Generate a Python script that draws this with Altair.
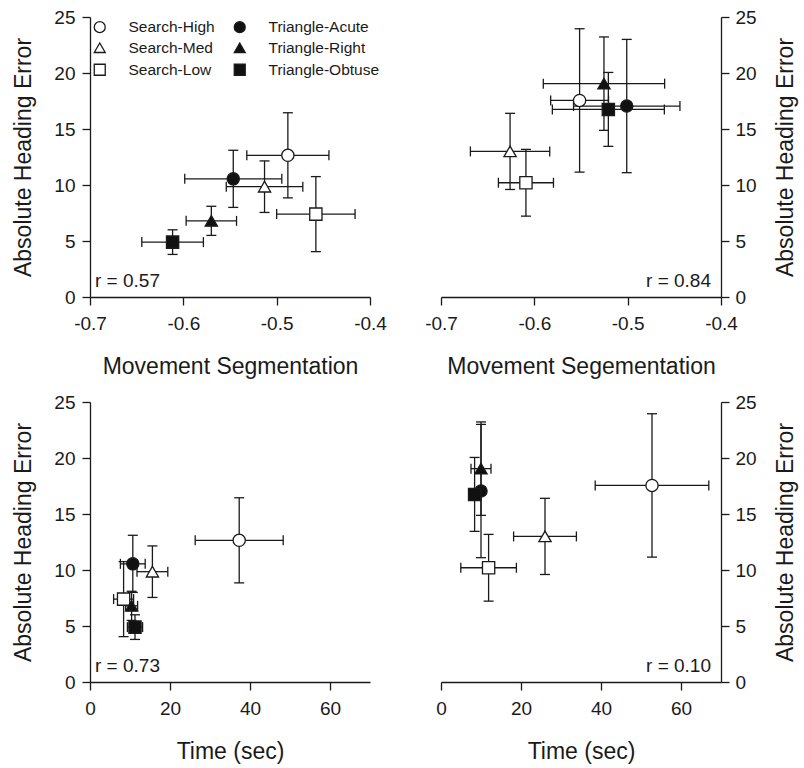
import altair as alt
import pandas as pd

# ---------------- data ----------------
conditions = ["Search-High", "Search-Med", "Search-Low", "Triangle-Acute", "Triangle-Right", "Triangle-Obtuse"]
shapes = ["circle", "triangle-up", "square", "circle", "triangle-up", "square"]
fills = ["white", "white", "white", "#111111", "#111111", "#111111"]
strokes = ["#1a1a1a"] * 6

# Absolute heading error (left column panels)
heading_a = [12.65, 9.85, 7.4, 10.55, 6.8, 4.9]
heading_a_err = [3.8, 2.3, 3.35, 2.55, 1.3, 1.1]
# Absolute heading error (right column panels)
heading_b = [17.55, 13.0, 10.2, 17.05, 19.05, 16.75]
heading_b_err = [6.4, 3.4, 2.98, 5.95, 4.17, 3.3]

# Movement segmentation
seg_a = [-0.488, -0.513, -0.458, -0.5465, -0.570, -0.6115]
seg_a_err = [0.044, 0.041, 0.042, 0.052, 0.027, 0.033]
seg_b = [-0.5515, -0.626, -0.609, -0.501, -0.5254, -0.5207]
seg_b_err = [0.031, 0.0425, 0.0295, 0.057, 0.065, 0.06]

# Time (sec)
time_a = [37.3, 15.6, 8.4, 10.7, 10.4, 11.25]
time_a_err = [11.0, 3.85, 2.5, 3.1, 1.5, 1.9]
time_b = [52.75, 26.0, 11.9, 10.0, 10.0, 8.4]
time_b_err = [14.2, 7.85, 6.95, 1.0, 2.5, 1.0]

r_labels = ["r = 0.57", "r = 0.84", "r = 0.73", "r = 0.10"]

seg_ticks = [-0.7, -0.6, -0.5, -0.4]
time_ticks = [0, 20, 40, 60]
heading_ticks = [0, 5, 10, 15, 20, 25]

FONT = "Liberation Sans"
INK = "#1a1a1a"


def panel(xv, xe, yv, ye, xdom, xticks, seg, xtitle, yorient, r_label, legend):
    df = pd.DataFrame({"cond": conditions, "x": xv, "xe": xe, "y": yv, "ye": ye})
    df["xlo"] = df["x"] - df["xe"]
    df["xhi"] = df["x"] + df["xe"]
    df["ylo"] = df["y"] - df["ye"]
    df["yhi"] = df["y"] + df["ye"]

    xscale = alt.Scale(domain=xdom, nice=False, zero=False)
    yscale = alt.Scale(domain=[0, 25], nice=False)
    if seg:
        xaxis = alt.Axis(values=xticks, labelExpr="replace(format(datum.value, '.1f'), '\u2212', '-')",
                         labelPadding=9, titlePadding=22, labelFlush=False)
    else:
        xaxis = alt.Axis(values=xticks, labelPadding=9, titlePadding=22, labelFlush=False)
    if yorient == "left":
        yaxis = alt.Axis(values=heading_ticks, orient="left", labelPadding=7, titlePadding=18,
                         labelFlush=False)
    else:
        yaxis = alt.Axis(values=heading_ticks, orient="right", labelPadding=6, titlePadding=18,
                         titleAngle=270, titleBaseline="top", labelFlush=False)

    ytitle = "Absolute Heading Error"

    def X(f):
        return alt.X(f + ":Q", scale=xscale, axis=xaxis, title=xtitle)

    def Y(f):
        return alt.Y(f + ":Q", scale=yscale, axis=yaxis, title=ytitle)

    base = alt.Chart(df)
    hbar = base.mark_rule(color=INK, strokeWidth=1.3).encode(x=X("xlo"), x2="xhi:Q", y=Y("y"))
    vbar = base.mark_rule(color=INK, strokeWidth=1.3).encode(x=X("x"), y=Y("ylo"), y2="yhi:Q")
    cap_l = base.mark_tick(orient="vertical", size=10, thickness=1.3, color=INK, opacity=1).encode(x=X("xlo"), y=Y("y"))
    cap_r = base.mark_tick(orient="vertical", size=10, thickness=1.3, color=INK, opacity=1).encode(x=X("xhi"), y=Y("y"))
    cap_b = base.mark_tick(orient="horizontal", size=10, thickness=1.3, color=INK, opacity=1).encode(x=X("x"), y=Y("ylo"))
    cap_t = base.mark_tick(orient="horizontal", size=10, thickness=1.3, color=INK, opacity=1).encode(x=X("x"), y=Y("yhi"))

    if legend:
        leg = alt.Legend(title=None, orient="none", legendX=2, legendY=2, columns=2,
                         columnPadding=16, rowPadding=4, labelFontSize=15.5, labelFont=FONT,
                         labelColor=INK, labelOffset=21, symbolSize=120,
                         symbolStrokeWidth=1.3, symbolOpacity=1, padding=0)
    else:
        leg = None

    shape_enc = alt.Shape("cond:N", scale=alt.Scale(domain=conditions, range=shapes), legend=leg)
    fill_enc = alt.Fill("cond:N", scale=alt.Scale(domain=conditions, range=fills), legend=leg)
    stroke_enc = alt.Stroke("cond:N", scale=alt.Scale(domain=conditions, range=strokes), legend=leg)

    pts = base.mark_point(filled=True, size=150, opacity=1, strokeWidth=1.3).encode(
        x=X("x"), y=Y("y"), shape=shape_enc, fill=fill_enc, stroke=stroke_enc
    )

    left_corner = yorient == "left"
    rdf = pd.DataFrame({"label": [r_label], "x": [xdom[0] if left_corner else xdom[1]], "y": [0]})
    rtext = alt.Chart(rdf).mark_text(
        align="left" if left_corner else "right", baseline="alphabetic",
        dx=5 if left_corner else -10, dy=-10, fontSize=19, font=FONT, color=INK
    ).encode(x=X("x"), y=Y("y"), text="label:N")

    return alt.layer(hbar, vbar, cap_l, cap_r, cap_b, cap_t, pts, rtext).properties(width=280, height=280)


p1 = panel(seg_a, seg_a_err, heading_a, heading_a_err, [-0.7, -0.4], seg_ticks, True,
           "Movement Segmentation", "left", r_labels[0], True)
p2 = panel(seg_b, seg_b_err, heading_b, heading_b_err, [-0.7, -0.4], seg_ticks, True,
           "Movement Segementation", "right", r_labels[1], False)
p3 = panel(time_a, time_a_err, heading_a, heading_a_err, [0, 70], time_ticks, False,
           "Time (sec)", "left", r_labels[2], False)
p4 = panel(time_b, time_b_err, heading_b, heading_b_err, [0, 70], time_ticks, False,
           "Time (sec)", "right", r_labels[3], False)

chart = alt.concat(
    p1, p2, p3, p4, columns=2, spacing={"row": 105, "column": 71}, bounds="flush"
).resolve_scale(
    shape="independent", fill="independent", stroke="independent"
).properties(
    padding={"left": 12, "top": 7, "right": 5, "bottom": 5},
    background="white",
).configure_view(
    stroke="transparent"
).configure_axis(
    grid=False,
    domainColor=INK, tickColor=INK, labelColor=INK, titleColor=INK,
    domainWidth=1.3, tickWidth=1.3, tickSize=8,
    labelFont=FONT, titleFont=FONT, labelFontSize=19, titleFontSize=23,
    titleFontWeight="normal",
)

chart.save("out.html", embed_options={"renderer": "svg", "actions": False})
